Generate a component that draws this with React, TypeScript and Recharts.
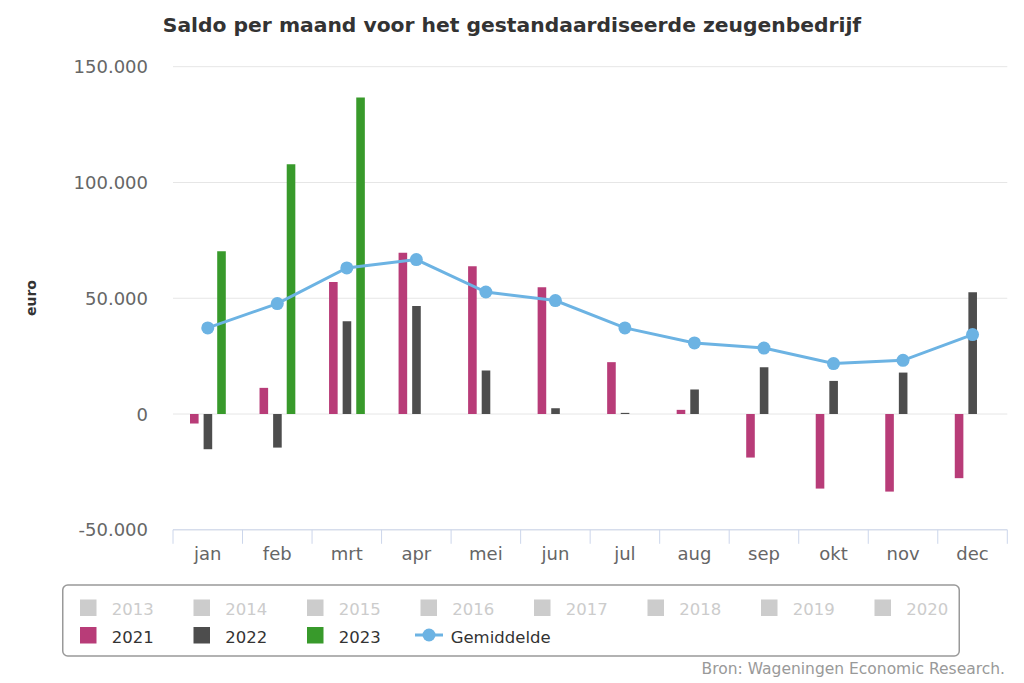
import React from 'react';
import { ComposedChart, Bar, Line, XAxis, YAxis, CartesianGrid, Legend } from 'recharts';

const months = ['jan', 'feb', 'mrt', 'apr', 'mei', 'jun', 'jul', 'aug', 'sep', 'okt', 'nov', 'dec'];
const saldo2021 = [-4100, 11300, 57000, 69700, 63800, 54700, 22400, 1800, -18800, -32200, -33500, -27700];
const saldo2022 = [-15200, -14500, 40100, 46700, 18800, 2500, 500, 10600, 20200, 14300, 17900, 52600];
const saldo2023: (number | null)[] = [70300, 107900, 136700, null, null, null, null, null, null, null, null, null];
const gemiddelde = [37200, 47700, 63100, 66700, 52700, 49000, 37200, 30700, 28500, 21800, 23200, 34300];
const yTicks = [-50000, 0, 50000, 100000, 150000];
const inactiveYears = ['2013', '2014', '2015', '2016', '2017', '2018', '2019', '2020'];
const activeYears = ['2021', '2022', '2023'];

const COLORS = { y2021: '#b83c78', y2022: '#4d4d4d', y2023: '#389a2b', avg: '#6cb3e3' };
const FONT = 'DejaVu Sans';

const data = months.map((m, i) => ({
  month: m,
  y2021: saldo2021[i],
  y2022: saldo2022[i],
  y2023: saldo2023[i],
  avg: gemiddelde[i],
}));

const fmt = (v: number) => v.toString().replace(/\B(?=(\d{3})+(?!\d))/g, '.');

const W = 1024;
const H = 683;
const M = { top: 66.7, right: 16.7, bottom: 113.2, left: 0 };
const Y_W = 173;
const X_H = 40;
const BAND = (W - M.left - Y_W - M.right) / months.length;

const YTick = (props: any) => {
  const { x, y, payload } = props;
  return (
    <text x={x - 25} y={y + 6.5} textAnchor="end" fontSize={18} fill="#666" fontFamily={FONT}>
      {fmt(payload.value)}
    </text>
  );
};

const XTick = (props: any) => {
  const { x, y, payload, index } = props;
  const left = x - BAND / 2;
  return (
    <g>
      <line x1={left} y1={y} x2={left} y2={y + 14} stroke="#ccd6eb" strokeWidth={1} />
      {index === months.length - 1 && (
        <line x1={x + BAND / 2} y1={y} x2={x + BAND / 2} y2={y + 14} stroke="#ccd6eb" strokeWidth={1} />
      )}
      <text x={x} y={y + 30} textAnchor="middle" fontSize={18} fill="#666" fontFamily={FONT}>
        {payload.value}
      </text>
    </g>
  );
};

const activeColors = [COLORS.y2021, COLORS.y2022, COLORS.y2023];

const LegendContent = () => (
  <svg width={W} height={H} style={{ display: 'block' }}>
    <rect x={62.75} y={585} width={896.5} height={71} rx={5} ry={5} fill="none" stroke="#999" strokeWidth={1.5} />
    {inactiveYears.map((yr, i) => (
      <g key={yr}>
        <rect x={80 + i * 113.5} y={599.5} width={16.5} height={16.5} fill="#cccccc" />
        <text x={111.7 + i * 113.5} y={615} fontSize={16.5} fill="#cccccc" fontFamily={FONT}>
          {yr}
        </text>
      </g>
    ))}
    {activeYears.map((yr, i) => (
      <g key={yr}>
        <rect x={80 + i * 113.5} y={627} width={16.5} height={16.5} fill={activeColors[i]} />
        <text x={111.7 + i * 113.5} y={643} fontSize={16.5} fill="#333" fontFamily={FONT}>
          {yr}
        </text>
      </g>
    ))}
    <line x1={415} y1={635} x2={443} y2={635} stroke={COLORS.avg} strokeWidth={3} />
    <circle cx={429} cy={635} r={6.5} fill={COLORS.avg} />
    <text x={450.7} y={643} fontSize={16.5} fill="#333" fontFamily={FONT}>
      Gemiddelde
    </text>
  </svg>
);

export default function App() {
  return (
    <div style={{ position: 'absolute', left: 0, top: 0, width: W, height: H, background: '#fff', fontFamily: FONT }}>
      <ComposedChart width={W} height={H} data={data} margin={M} barGap={5} barSize={8.6}>
        <CartesianGrid horizontal={true} vertical={false} stroke="#e6e6e6" strokeWidth={1} />
        <XAxis
          dataKey="month"
          interval={0}
          tickLine={false}
          tickSize={0}
          tickMargin={0}
          height={X_H}
          axisLine={{ stroke: '#ccd6eb', strokeWidth: 1 }}
          tick={<XTick />}
        />
        <YAxis
          type="number"
          domain={[-50000, 150000]}
          ticks={yTicks}
          interval={0}
          width={Y_W}
          axisLine={false}
          tickLine={false}
          tickSize={0}
          tickMargin={0}
          tick={<YTick />}
        />
        <Bar dataKey="y2021" name="2021" fill={COLORS.y2021} isAnimationActive={false} />
        <Bar dataKey="y2022" name="2022" fill={COLORS.y2022} isAnimationActive={false} />
        <Bar dataKey="y2023" name="2023" fill={COLORS.y2023} isAnimationActive={false} />
        <Line
          dataKey="avg"
          name="Gemiddelde"
          type="linear"
          stroke={COLORS.avg}
          strokeWidth={3}
          dot={{ r: 6.5, fill: COLORS.avg, stroke: 'none' }}
          activeDot={false}
          isAnimationActive={false}
        />
        <Legend
          content={<LegendContent />}
          layout="horizontal"
          verticalAlign="middle"
          align="center"
          wrapperStyle={{ position: 'absolute', left: 0, top: 0, width: W, height: H, pointerEvents: 'none' }}
        />
      </ComposedChart>
      <svg width={W} height={H} style={{ position: 'absolute', left: 0, top: 0, pointerEvents: 'none' }}>
        <text x={512} y={32} textAnchor="middle" fontSize={20.3} fontWeight="bold" fill="#333" fontFamily={FONT}>
          Saldo per maand voor het gestandaardiseerde zeugenbedrijf
        </text>
        <text
          x={36}
          y={298}
          transform="rotate(-90 36 298)"
          textAnchor="middle"
          fontSize={14}
          fontWeight="bold"
          fill="#333"
          fontFamily={FONT}
        >
          euro
        </text>
        <text x={1005} y={674} textAnchor="end" fontSize={15.5} fill="#999" fontFamily={FONT}>
          Bron: Wageningen Economic Research.
        </text>
      </svg>
    </div>
  );
}
